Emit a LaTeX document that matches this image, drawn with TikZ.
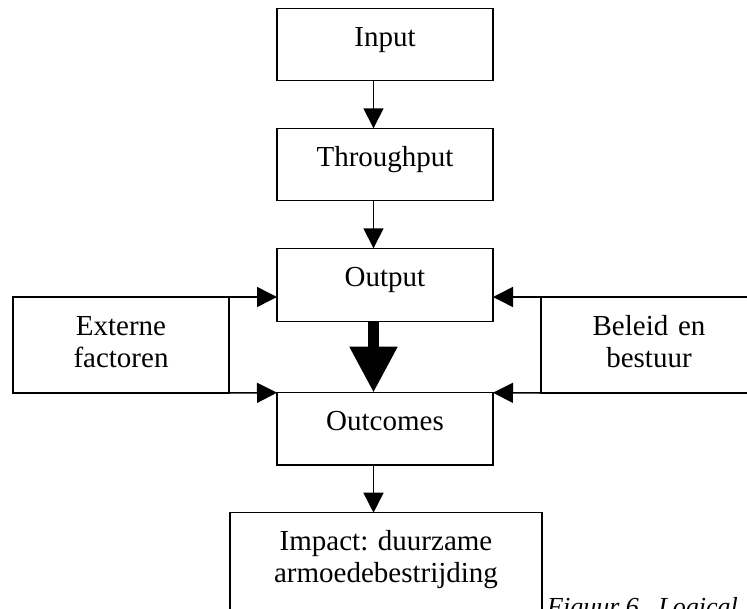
\documentclass[tikz,border=0pt]{standalone}
\usepackage{fontspec}
\setmainfont{Liberation Serif}
\usetikzlibrary{arrows.meta, calc}

\tikzset{
  stage/.style={draw, line width=1.5pt, anchor=north west, inner sep=0pt,
    outer sep=0pt, align=center, text width=#1, text height=38pt,
    font=\fontsize{29}{32}\selectfont},
  flow/.style={line width=1.5pt, -{Triangle[length=20pt,width=20pt]}},
  bigflow/.style={line width=11pt, -{Triangle[length=46pt,width=45pt]}}
}

\begin{document}
\frenchspacing
\begin{tikzpicture}[x=1pt, y=-1pt]
\useasboundingbox (0,0) rectangle (747,608);
\clip (0,0) rectangle (747,608);
% main chain of boxes
\node[stage=216pt, text depth=34.4pt] (input) at (277,8.3) {Input};
\node[stage=216pt, text depth=34.4pt] (thru) at (277,128.3) {Throughput};
\node[stage=216pt, text depth=35.4pt] (output) at (277,248.3) {Output};
\node[stage=216pt, text depth=34.3pt] (outcomes) at (277,392.7) {Outcomes};
\node[stage=312pt, text depth=72pt] (impact) at (230,512.7) {Impact: duurzame\\armoedebestrijding};
% side boxes
\node[stage=216pt, text depth=58pt] (extern) at (13,297) {Externe\\factoren};
\node[stage=216pt, text depth=58pt] (beleid) at (541,297) {Beleid en\\bestuur};
% line the arrows run along
\coordinate (spine) at (373.5,0);
\draw[flow] (input.south -| spine) -- (thru.north -| spine);
\draw[flow] (thru.south -| spine) -- (output.north -| spine);
\draw[bigflow] (output.south -| spine) -- (outcomes.north -| spine);
\draw[flow] (outcomes.south -| spine) -- (impact.north -| spine);
% influences from the sides
\draw[flow] (extern.north east) -- (output.west |- extern.north east);
\draw[flow] (extern.south east) -- (outcomes.north west);
\draw[flow] (beleid.north west) -- (output.east |- beleid.north west);
\draw[flow] (beleid.south west) -- (outcomes.north east);
% caption, cut off at the page edge
\node[anchor=base west, inner sep=0pt, font=\fontsize{26}{30}\selectfont\itshape] (caption) at (547,615) {Figuur 6.\ \ Logical};
\end{tikzpicture}
\end{document}
